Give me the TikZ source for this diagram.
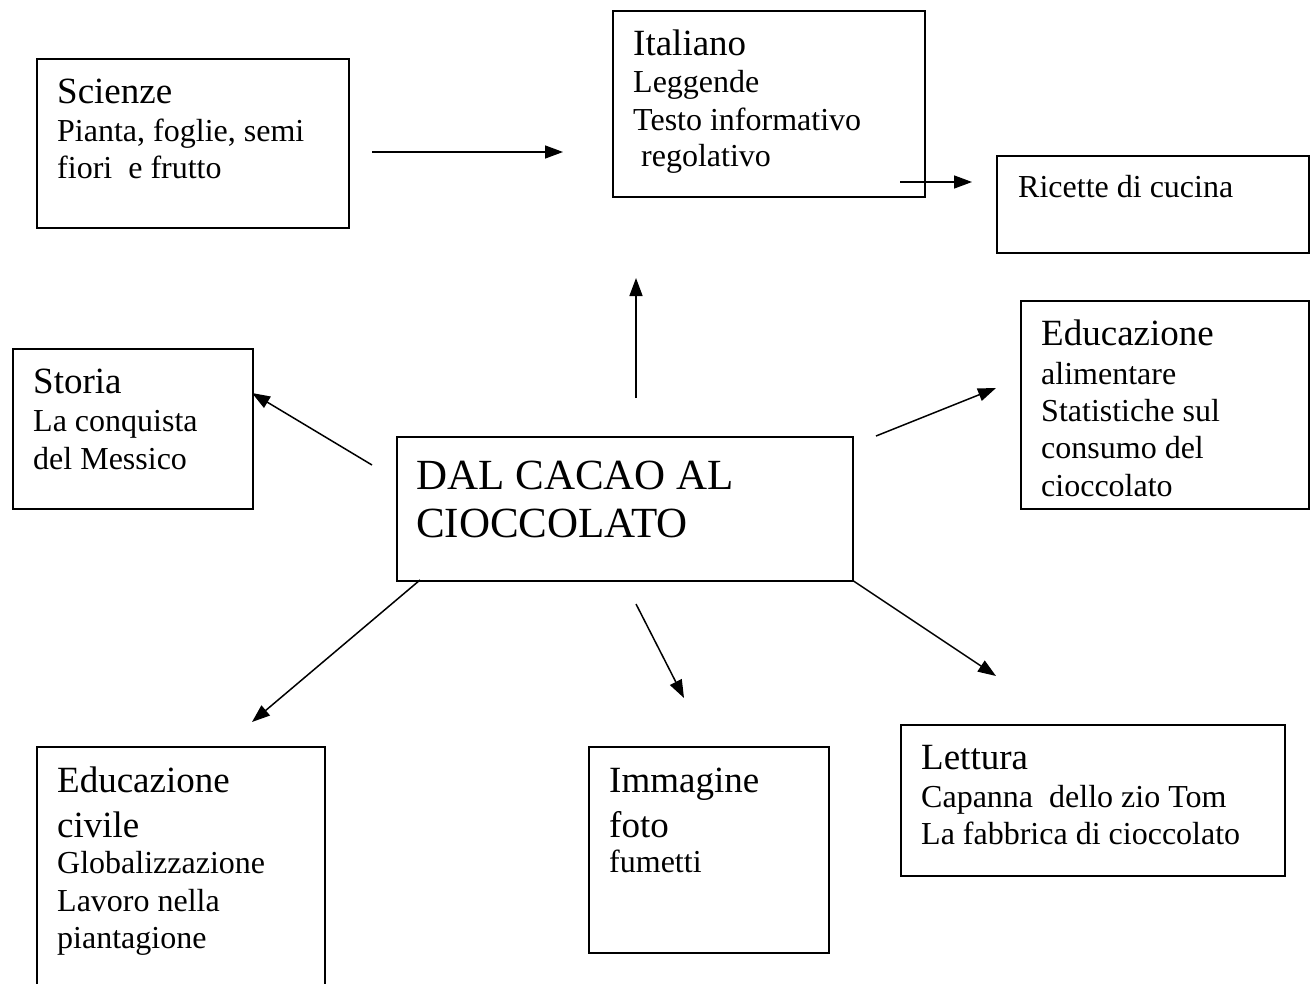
\documentclass[tikz,border=0pt]{standalone}
\usepackage{fontspec}
\setmainfont{Liberation Serif}
\usetikzlibrary{arrows.meta}
\newcommand{\fsmall}{\fontsize{32}{37}\selectfont}
\newcommand{\fhead}{\fontsize{37}{42}\selectfont}
\newcommand{\ftitle}{\fontsize{43}{48}\selectfont}
\tikzset{
  box/.style={draw=black, line width=1.6pt, anchor=north west, inner sep=0pt},
  sm/.style={anchor=base west, inner sep=0pt, font=\fsmall},
  hd/.style={anchor=base west, inner sep=0pt, font=\fhead},
  tt/.style={anchor=base west, inner sep=0pt, font=\ftitle},
  arr/.style={line width=1.5pt, -{Triangle[length=18pt,width=13pt]}}
}
\begin{document}
\begin{tikzpicture}[x=1pt,y=-1pt]
\useasboundingbox (0,0) rectangle (1316,984);
% boxes
\node[box, minimum width=312pt, minimum height=169pt] (sci) at (36,58) {};
\node[box, minimum width=312pt, minimum height=186pt] (ita) at (612,10) {};
\node[box, minimum width=312pt, minimum height=97pt]  (ric) at (996,155) {};
\node[box, minimum width=240pt, minimum height=160pt] (sto) at (12,348) {};
\node[box, minimum width=456pt, minimum height=144pt] (dal) at (396,436) {};
\node[box, minimum width=288pt, minimum height=208pt] (eda) at (1020,300) {};
\node[box, minimum width=288pt, minimum height=254pt] (edc) at (36,746) {};
\node[box, minimum width=240pt, minimum height=206pt] (img) at (588,746) {};
\node[box, minimum width=384pt, minimum height=151pt] (let) at (900,724) {};
% texts
\node[hd] (sci1) at (57,104) {Scienze};
\node[sm] (sci2) at (57,142) {Pianta, foglie, semi};
\node[sm] (sci3) at (57,179) {fiori\ \ e frutto};
\node[hd] (ita1) at (633,56) {Italiano};
\node[sm] (ita2) at (633,93) {Leggende};
\node[sm] (ita3) at (633,131) {Testo informativo};
\node[sm] (ita4) at (641,167) {regolativo};
\node[sm] (ric1) at (1018,198) {Ricette di cucina};
\node[hd] (sto1) at (33,393) {Storia};
\node[sm] (sto2) at (33,431) {La conquista};
\node[sm] (sto3) at (33,469) {del Messico};
\node[tt] (dal1) at (416,489) {DAL CACAO AL};
\node[tt] (dal2) at (416,537) {CIOCCOLATO};
\node[hd] (eda1) at (1041,345) {Educazione};
\node[sm] (eda2) at (1041,384) {alimentare};
\node[sm] (eda3) at (1041,421) {Statistiche sul};
\node[sm] (eda4) at (1041,458) {consumo del};
\node[sm] (eda5) at (1041,496) {cioccolato};
\node[hd] (edc1) at (57,792) {Educazione};
\node[hd] (edc2) at (57,837) {civile};
\node[sm] (edc3) at (57,873) {Globalizzazione};
\node[sm] (edc4) at (57,911) {Lavoro nella};
\node[sm] (edc5) at (57,948) {piantagione};
\node[hd] (img1) at (609,792) {Immagine};
\node[hd] (img2) at (609,837) {foto};
\node[sm] (img3) at (609,872) {fumetti};
\node[hd] (let1) at (921,769) {Lettura};
\node[sm] (let2) at (921,807) {Capanna\ \ dello zio Tom};
\node[sm] (let3) at (921,844) {La fabbrica di cioccolato};
% arrow end points
\coordinate (a1s) at (372,152); \coordinate (a1e) at (563,152);
\coordinate (a2s) at (900,182); \coordinate (a2e) at (972,182);
\coordinate (a3s) at (636,398); \coordinate (a3e) at (636,278);
\coordinate (a4s) at (372,465); \coordinate (a4e) at (252,393);
\coordinate (a5s) at (876,436); \coordinate (a5e) at (996,388);
\coordinate (a6s) at (420,580); \coordinate (a6e) at (252,722);
\coordinate (a7s) at (636,604); \coordinate (a7e) at (684,698);
\coordinate (a8s) at (852,580); \coordinate (a8e) at (996,676);
\draw[arr] (a1s) -- (a1e);
\draw[arr] (a2s) -- (a2e);
\draw[arr] (a3s) -- (a3e);
\draw[arr] (a4s) -- (a4e);
\draw[arr] (a5s) -- (a5e);
\draw[arr] (a6s) -- (a6e);
\draw[arr] (a7s) -- (a7e);
\draw[arr] (a8s) -- (a8e);
\end{tikzpicture}
\end{document}
